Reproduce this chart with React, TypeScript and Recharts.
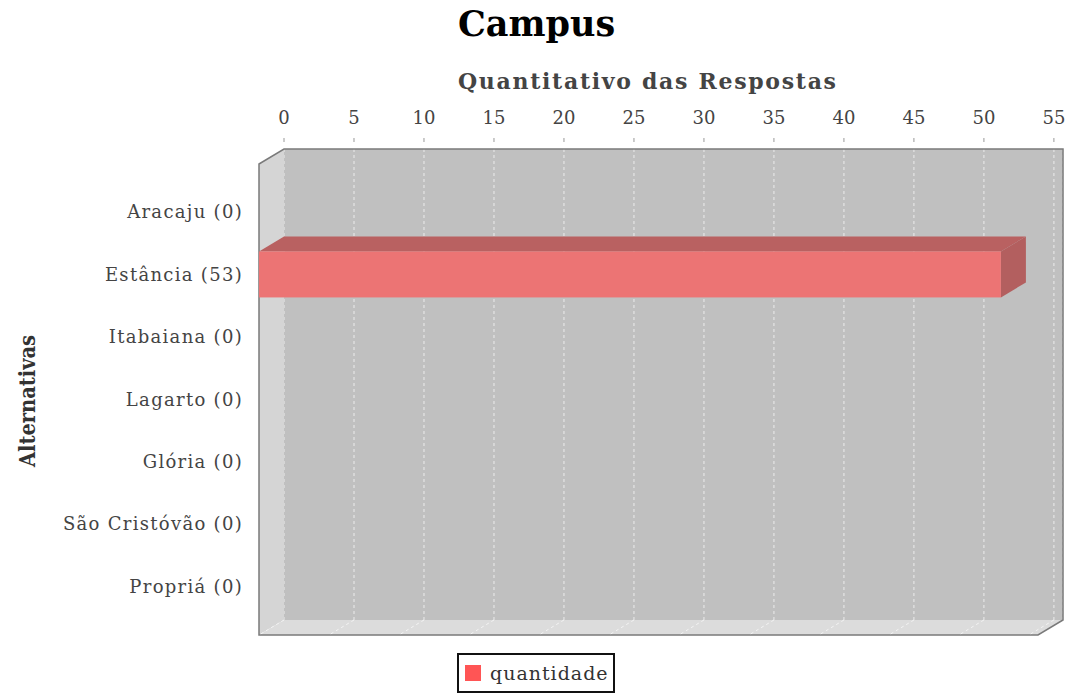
import React from "react";
import { Bar, BarChart, CartesianGrid, Customized, XAxis, YAxis } from "recharts";

const categories = [
  "Aracaju (0)",
  "Estância (53)",
  "Itabaiana (0)",
  "Lagarto (0)",
  "Glória (0)",
  "São Cristóvão (0)",
  "Propriá (0)",
];
const quantidade = [0, 53, 0, 0, 0, 0, 0];
const valueTicks = [0, 5, 10, 15, 20, 25, 30, 35, 40, 45, 50, 55];
const AXIS_MAX = 55.65;

const data = categories.map((name, i) => ({ name, quantidade: quantidade[i] }));

// layout
const W = 1073;
const H = 696;
const PLOT_LEFT = 284;
const PLOT_TOP = 149;
const PLOT_RIGHT = 1063;
const PLOT_BOTTOM = 620;
const X_AXIS_H = 40;
const DX = 25; // 3d depth
const DY = 15;
const FONT = "'DejaVu Serif', serif";

// left wall + floor of the 3d box (back wall is the grid fill)
const Walls = () => (
  <g>
    <polygon
      points={`${PLOT_LEFT - DX},${PLOT_TOP + DY} ${PLOT_LEFT},${PLOT_TOP} ${PLOT_LEFT},${PLOT_BOTTOM} ${PLOT_LEFT - DX},${PLOT_BOTTOM + DY}`}
      fill="#d5d5d5"
    />
    <polygon
      points={`${PLOT_LEFT},${PLOT_BOTTOM} ${PLOT_RIGHT},${PLOT_BOTTOM} ${PLOT_RIGHT - DX},${PLOT_BOTTOM + DY} ${PLOT_LEFT - DX},${PLOT_BOTTOM + DY}`}
      fill="#dcdcdc"
    />
  </g>
);

const Outline = () => (
  <g>
    <path
      d={`M${PLOT_LEFT - DX},${PLOT_TOP + DY} L${PLOT_LEFT},${PLOT_TOP} L${PLOT_RIGHT},${PLOT_TOP} L${PLOT_RIGHT},${PLOT_BOTTOM} L${PLOT_RIGHT - DX},${PLOT_BOTTOM + DY} L${PLOT_LEFT - DX},${PLOT_BOTTOM + DY} Z`}
      fill="none"
      stroke="#7a7a7a"
      strokeWidth={1.5}
    />
    <text x={W / 2} y={36} textAnchor="middle" fontFamily={FONT} fontWeight="bold" fontSize={35} fill="#000">
      Campus
    </text>
    <text
      x={647}
      y={89}
      textAnchor="middle"
      fontFamily={FONT}
      fontWeight="bold"
      fontSize={22}
      fill="#444"
      textLength={378}
      lengthAdjust="spacing"
    >
      Quantitativo das Respostas
    </text>
    <text
      transform="translate(35,401) rotate(-90)"
      textAnchor="middle"
      fontFamily={FONT}
      fontWeight="bold"
      fontSize={22}
      fill="#333"
      textLength={132}
      lengthAdjust="spacingAndGlyphs"
    >
      Alternativas
    </text>
  </g>
);

const ValueTick = (props: any) => {
  const { x, payload } = props;
  return (
    <g>
      <text x={x} y={124} textAnchor="middle" fontFamily={FONT} fontSize={18} fill="#444">
        {payload.value}
      </text>
      <line x1={x} y1={138} x2={x} y2={142} stroke="#999" strokeWidth={1} />
      <line
        x1={x}
        y1={PLOT_BOTTOM}
        x2={x - DX}
        y2={PLOT_BOTTOM + DY}
        stroke="#f4f4f4"
        strokeDasharray="3 3"
      />
    </g>
  );
};

const CategoryTick = (props: any) => {
  const { y, payload } = props;
  return (
    <text
      x={243}
      y={y + DY + 6}
      textAnchor="end"
      fontFamily={FONT}
      fontSize={18}
      letterSpacing={1.3}
      fill="#444"
    >
      {payload.value}
    </text>
  );
};

const Bar3D = (props: any) => {
  const { x, y, width, height } = props;
  if (!width || width <= 0) return null;
  const fx = x - DX;
  const fy = y + DY;
  return (
    <g>
      <polygon points={`${fx},${fy} ${x},${y} ${x + width},${y} ${fx + width},${fy}`} fill="#b96161" />
      <polygon
        points={`${fx + width},${fy} ${x + width},${y} ${x + width},${y + height} ${fx + width},${fy + height}`}
        fill="#b35f5f"
      />
      <rect x={fx} y={fy} width={width} height={height} fill="#ec7474" />
    </g>
  );
};

export default function App() {
  return (
    <div style={{ position: "absolute", left: 0, top: 0, width: W, height: H, background: "#fff" }}>
      <BarChart
        width={W}
        height={H}
        data={data}
        layout="vertical"
        margin={{ top: PLOT_TOP - X_AXIS_H, right: W - PLOT_RIGHT, bottom: H - PLOT_BOTTOM, left: 0 }}
      >
        <Customized component={<Walls />} />
        <CartesianGrid
          vertical
          horizontal={false}
          fill="#c0c0c0"
          stroke="#ececec"
          strokeDasharray="3 3"
        />
        <XAxis
          type="number"
          orientation="top"
          domain={[0, AXIS_MAX]}
          ticks={valueTicks}
          height={X_AXIS_H}
          axisLine={false}
          tickLine={false}
          tick={<ValueTick />}
          interval={0}
        />
        <YAxis
          type="category"
          dataKey="name"
          width={PLOT_LEFT}
          padding={{ top: 17, bottom: 17 }}
          axisLine={false}
          tickLine={false}
          tick={<CategoryTick />}
          interval={0}
        />
        <Bar dataKey="quantidade" barSize={46} shape={<Bar3D />} isAnimationActive={false} />
        <Customized component={<Outline />} />
      </BarChart>
      <div
        style={{
          position: "absolute",
          left: 457,
          top: 653,
          width: 158,
          height: 40,
          paddingLeft: 6,
          border: "2px solid #111",
          display: "flex",
          alignItems: "center",
          fontFamily: FONT,
          fontSize: 19,
          letterSpacing: 1,
          color: "#333",
          boxSizing: "border-box",
        }}
      >
        <span style={{ width: 16, height: 16, background: "#ff5555", marginRight: 9, display: "inline-block" }} />
        quantidade
      </div>
    </div>
  );
}
